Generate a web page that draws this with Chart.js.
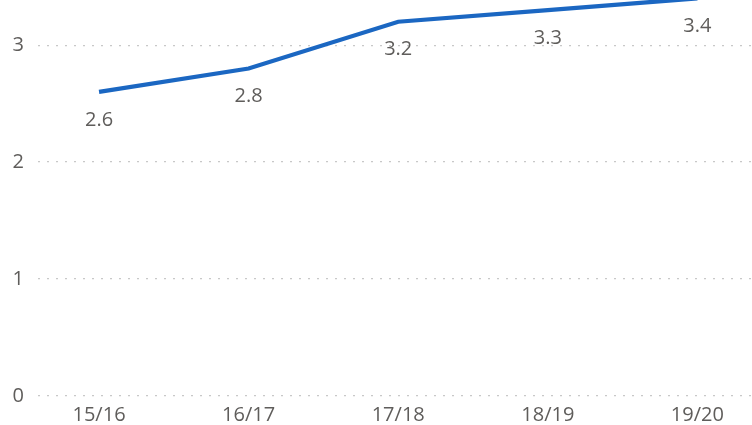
<!DOCTYPE html>
<html>
<head>
<meta charset="utf-8">
<script src="https://cdn.jsdelivr.net/npm/chart.js@4/dist/chart.umd.min.js"></script>
<style>
html,body{margin:0;padding:0;background:#fff;overflow:hidden;}
#wrap{width:752px;height:425px;position:relative;}
</style>
</head>
<body>
<div id="wrap"><canvas id="c" width="752" height="425"></canvas></div>
<script>
const categories = ["15/16", "16/17", "17/18", "18/19", "19/20"];
const values = [2.6, 2.8, 3.2, 3.3, 3.4];
const yTickValues = [0, 1, 2, 3];

const FONT = "'Open Sans', sans-serif";
const TEXT = "#5F5D5B";

const dataLabels = {
  id: 'dataLabels',
  afterDatasetsDraw(chart) {
    const ctx = chart.ctx;
    const meta = chart.getDatasetMeta(0);
    ctx.save();
    ctx.font = "20px " + FONT;
    ctx.fillStyle = TEXT;
    ctx.textAlign = 'center';
    ctx.textBaseline = 'middle';
    meta.data.forEach((pt, i) => {
      ctx.fillText(String(values[i]), pt.x, pt.y + 28);
    });
    ctx.restore();
  }
};

new Chart(document.getElementById('c'), {
  type: 'line',
  data: {
    datasets: [{
      data: values.map((v, i) => ({x: i, y: v})),
      borderColor: '#1B67C2',
      borderWidth: 4.2,
      pointRadius: 0,
      tension: 0,
      fill: false,
      clip: false
    }]
  },
  options: {
    responsive: false,
    animation: false,
    devicePixelRatio: 1,
    layout: {padding: 0},
    plugins: {legend: {display: false}, tooltip: {enabled: false}},
    scales: {
      x: {
        type: 'linear',
        min: -0.408,
        max: 4.365,
        afterBuildTicks(scale) {
          scale.ticks = categories.map((c, i) => ({value: i}));
        },
        ticks: {
          font: {family: FONT, size: 20},
          color: TEXT,
          padding: 7,
          maxRotation: 0,
          autoSkip: false,
          callback: (v) => categories[v] ?? ''
        },
        grid: {display: false, drawTicks: false},
        border: {display: false},
        afterFit(scale) {
          scale.height = 29;
          scale.paddingLeft = 0; scale.paddingRight = 0;
          scale.paddingTop = 0; scale.paddingBottom = 0;
        }
      },
      y: {
        min: 0,
        max: 3.386,
        afterBuildTicks(scale) {
          scale.ticks = yTickValues.map(v => ({value: v}));
        },
        ticks: {
          font: {family: FONT, size: 20},
          color: TEXT,
          padding: 14,
          callback: (v) => String(v)
        },
        grid: {color: '#C8C8C8', lineWidth: 1.2, drawTicks: false},
        border: {display: false, dash: [2, 7]},
        afterFit(scale) {
          scale.width = 38;
          scale.paddingTop = 0; scale.paddingBottom = 0;
          scale.paddingLeft = 0; scale.paddingRight = 0;
        }
      }
    }
  },
  plugins: [dataLabels]
});
</script>
</body>
</html>
